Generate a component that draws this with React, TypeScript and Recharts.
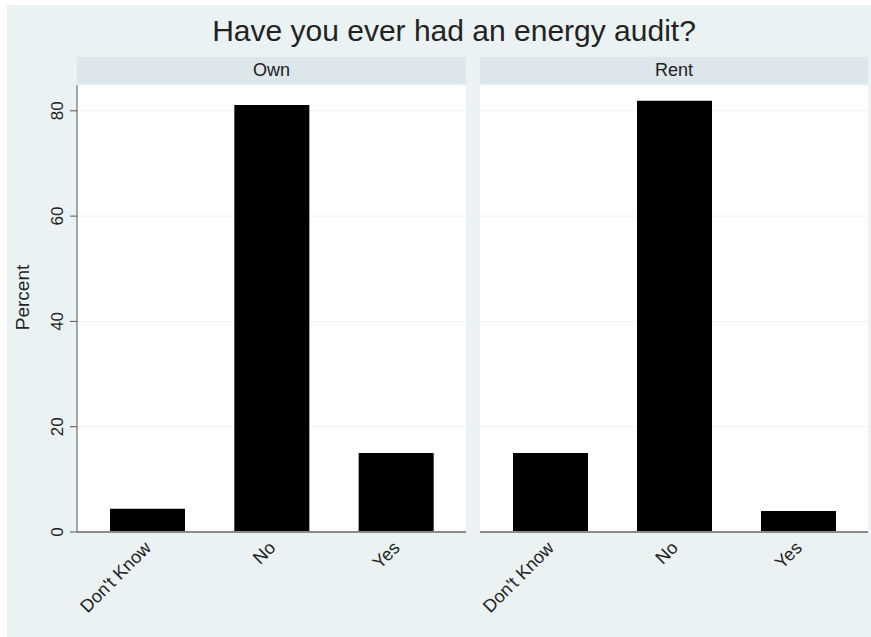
import React from "react";
import { BarChart, Bar, XAxis, YAxis, CartesianGrid } from "recharts";

const categories = ["Don't Know", "No", "Yes"];
const ownPercent = [4.4, 81.1, 15.0];
const rentPercent = [15.0, 81.9, 4.0];
const panelLabels = ["Own", "Rent"];
const yTicks = [0, 20, 40, 60, 80];

const FONT = '"Liberation Sans", Arial, Helvetica, sans-serif';
const BG = "#eaf2f3";
const STRIP = "#dce6eb";
const Y_MAX = 84.9;

const ownData = categories.map((cat, i) => ({ cat, pct: ownPercent[i] }));
const rentData = categories.map((cat, i) => ({ cat, pct: rentPercent[i] }));

// eslint-disable-next-line @typescript-eslint/no-explicit-any
const XTick = ({ x, y, payload }: any) => (
  <text
    transform={`translate(${x + 5},${y + 9}) rotate(-45)`}
    textAnchor="end"
    fontSize={18}
    fontFamily={FONT}
    fill="#222"
  >
    {payload.value}
  </text>
);

// eslint-disable-next-line @typescript-eslint/no-explicit-any
const YTick = ({ x, y, payload }: any) => (
  <text
    x={x - 5}
    y={y}
    transform={`rotate(-90, ${x - 5}, ${y})`}
    textAnchor="middle"
    fontSize={17}
    fontFamily={FONT}
    fill="#222"
  >
    {payload.value}
  </text>
);

function Panel({
  data,
  width,
  showY,
}: {
  data: { cat: string; pct: number }[];
  width: number;
  showY: boolean;
}) {
  return (
    <BarChart
      width={width}
      height={637}
      data={data}
      margin={{ top: 85, right: 0, left: 0, bottom: 25 }}
      barSize={75}
    >
      <CartesianGrid vertical={false} fill="#ffffff" stroke="#edf2f4" />
      <XAxis
        dataKey="cat"
        interval={0}
        height={80}
        padding={{ left: 8, right: 8 }}
        tickLine={false}
        axisLine={{ stroke: "#8a8a8a", strokeWidth: 2 }}
        tick={<XTick />}
      />
      <YAxis
        hide={!showY}
        width={77}
        domain={[0, Y_MAX]}
        ticks={yTicks}
        tickSize={7}
        tickLine={{ stroke: "#555" }}
        axisLine={{ stroke: "#555" }}
        tick={<YTick />}
        label={{
          value: "Percent",
          angle: -90,
          position: "insideLeft",
          dx: 17,
          dy: -11,
          style: { fontSize: 19, fontFamily: FONT, fill: "#222", textAnchor: "middle" },
        }}
      />
      <Bar dataKey="pct" fill="#000" isAnimationActive={false} />
    </BarChart>
  );
}

export default function App() {
  const stripStyle: React.CSSProperties = {
    position: "absolute",
    top: 57,
    height: 27,
    background: STRIP,
    fontFamily: FONT,
    fontSize: 18,
    color: "#222",
    display: "flex",
    alignItems: "center",
    justifyContent: "center",
  };
  return (
    <div
      style={{
        position: "absolute",
        left: 0,
        top: 0,
        width: 871,
        height: 637,
        background: "#fff",
        overflow: "hidden",
      }}
    >
      <div
        style={{
          position: "absolute",
          left: 7,
          top: 5,
          width: 871,
          height: 640,
          background: BG,
        }}
      />
      <div
        style={{
          position: "absolute",
          left: 0,
          top: 14,
          width: 908,
          textAlign: "center",
          fontFamily: FONT,
          fontSize: 30,
          color: "#222",
        }}
      >
        Have you ever had an energy audit?
      </div>
      <div style={{ ...stripStyle, left: 77, width: 389 }}>{panelLabels[0]}</div>
      <div style={{ ...stripStyle, left: 480, width: 388 }}>{panelLabels[1]}</div>
      <div style={{ position: "absolute", left: 0, top: 0 }}>
        <Panel data={ownData} width={466} showY />
      </div>
      <div style={{ position: "absolute", left: 480, top: 0 }}>
        <Panel data={rentData} width={388} showY={false} />
      </div>
    </div>
  );
}
